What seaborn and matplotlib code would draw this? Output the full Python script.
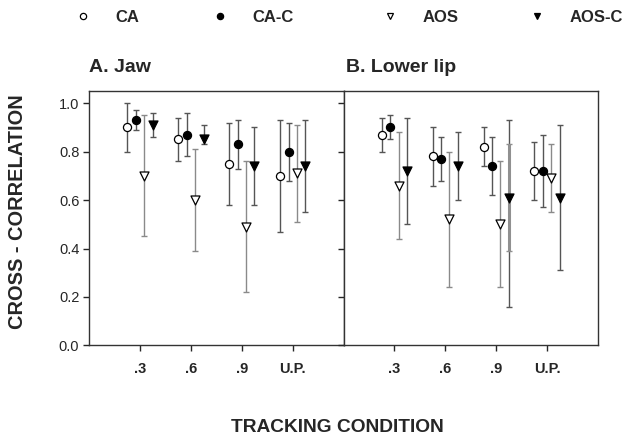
import numpy as np
import pandas as pd
import matplotlib
matplotlib.use('Agg')
import matplotlib.pyplot as plt
from matplotlib.lines import Line2D
import seaborn as sns

# data
conditions = ['.3', '.6', '.9', 'U.P.']
groups = ['CA', 'CA-C', 'AOS', 'AOS-C']

jaw_ca = [0.90, 0.85, 0.75, 0.70]
jaw_ca_lo = [0.80, 0.76, 0.58, 0.47]
jaw_ca_hi = [1.00, 0.94, 0.92, 0.93]
jaw_cac = [0.93, 0.87, 0.83, 0.80]
jaw_cac_lo = [0.89, 0.78, 0.73, 0.68]
jaw_cac_hi = [0.97, 0.96, 0.93, 0.92]
jaw_aos = [0.70, 0.60, 0.49, 0.71]
jaw_aos_lo = [0.45, 0.39, 0.22, 0.51]
jaw_aos_hi = [0.95, 0.81, 0.76, 0.91]
jaw_aosc = [0.91, 0.85, 0.74, 0.74]
jaw_aosc_lo = [0.86, 0.83, 0.58, 0.55]
jaw_aosc_hi = [0.96, 0.91, 0.90, 0.93]

lip_ca = [0.87, 0.78, 0.82, 0.72]
lip_ca_lo = [0.80, 0.66, 0.74, 0.60]
lip_ca_hi = [0.94, 0.90, 0.90, 0.84]
lip_cac = [0.90, 0.77, 0.74, 0.72]
lip_cac_lo = [0.85, 0.68, 0.62, 0.57]
lip_cac_hi = [0.95, 0.86, 0.86, 0.87]
lip_aos = [0.66, 0.52, 0.50, 0.69]
lip_aos_lo = [0.44, 0.24, 0.24, 0.55]
lip_aos_hi = [0.88, 0.80, 0.76, 0.83]
lip_aosc = [0.72, 0.74, 0.61, 0.61]
lip_aosc_lo = [0.50, 0.60, 0.16, 0.31]
lip_aosc_hi = [0.94, 0.88, 0.93, 0.91]
# second (inner) bar drawn over the .9 AOS-C lower lip point
lip_aosc_inner = ['.9', 0.39, 0.83]


def make_frame(means, los, his):
    rows = []
    for g, m, lo, hi in zip(groups, means, los, his):
        for c, v, l, h in zip(conditions, m, lo, hi):
            rows.append({'group': g, 'cond': c, 'r': v, 'lo': l, 'hi': h})
    return pd.DataFrame(rows)


jaw = make_frame([jaw_ca, jaw_cac, jaw_aos, jaw_aosc],
                 [jaw_ca_lo, jaw_cac_lo, jaw_aos_lo, jaw_aosc_lo],
                 [jaw_ca_hi, jaw_cac_hi, jaw_aos_hi, jaw_aosc_hi])
lip = make_frame([lip_ca, lip_cac, lip_aos, lip_aosc],
                 [lip_ca_lo, lip_cac_lo, lip_aos_lo, lip_aosc_lo],
                 [lip_ca_hi, lip_cac_hi, lip_aos_hi, lip_aosc_hi])

sns.set_style('ticks')
plt.rcParams['font.family'] = ['Liberation Sans', 'DejaVu Sans']

offsets = {'CA': -0.25, 'CA-C': -0.08, 'AOS': 0.08, 'AOS-C': 0.25}
markers = {'CA': 'o', 'CA-C': 'o', 'AOS': 'v', 'AOS-C': 'v'}
sizes = {'CA': 34, 'CA-C': 34, 'AOS': 42, 'AOS-C': 42}
faces = {'CA': 'white', 'CA-C': 'black', 'AOS': 'white', 'AOS-C': 'black'}
errcol = {'CA': '#555555', 'CA-C': '#555555', 'AOS': '#8a8a8a', 'AOS-C': '#555555'}

fig, axes = plt.subplots(1, 2, figsize=(6.25, 4.44), dpi=100, sharey=True)
fig.subplots_adjust(left=0.1424, right=0.957, top=0.795, bottom=0.222, wspace=0)


def draw_panel(ax, df, title, title_x):
    df = df.copy()
    df['x'] = df['cond'].map({c: i + 1 for i, c in enumerate(conditions)}) + df['group'].map(offsets)
    for g in groups:
        d = df[df['group'] == g]
        ax.errorbar(d['x'], d['r'], yerr=[d['r'] - d['lo'], d['hi'] - d['r']],
                    fmt='none', ecolor=errcol[g], elinewidth=1, capsize=2,
                    capthick=1, zorder=2)
        sns.scatterplot(x=d['x'], y=d['r'], marker=markers[g], color=faces[g],
                        edgecolor='black', linewidth=0.9, s=sizes[g], ax=ax,
                        zorder=3, legend=False)
    ax.set_xlim(0, 5)
    ax.set_ylim(0, 1.05)
    ax.set_xticks(range(1, 5))
    ax.set_xticklabels(conditions, fontweight='bold', fontsize=10.5)
    ax.set_yticks(np.arange(0, 1.01, 0.2))
    ax.set_yticklabels(['%.1f' % v for v in np.arange(0, 1.01, 0.2)], fontsize=10.5)
    ax.tick_params(axis='x', length=4, width=1, pad=8)
    ax.tick_params(axis='y', length=4, width=1, pad=3)
    ax.set_xlabel('')
    ax.set_ylabel('')
    for s in ax.spines.values():
        s.set_visible(True)
        s.set_linewidth(1)
        s.set_color('#333333')
    ax.text(title_x, 1.06, title, transform=ax.transAxes, fontsize=14,
            fontweight='bold', ha='left', va='bottom')
    return df


draw_panel(axes[0], jaw, 'A. Jaw', 0.0)
lipd = draw_panel(axes[1], lip, 'B. Lower lip', 0.008)
# thicker inner bar at lower lip .9 AOS-C
xin = lipd[(lipd['group'] == 'AOS-C') & (lipd['cond'] == lip_aosc_inner[0])]['x'].iloc[0]
axes[1].errorbar([xin], [(lip_aosc_inner[1] + lip_aosc_inner[2]) / 2],
                 yerr=[[(lip_aosc_inner[2] - lip_aosc_inner[1]) / 2]],
                 fmt='none', ecolor='#909090', elinewidth=2.2, capsize=2,
                 capthick=1, zorder=2.5)
axes[1].tick_params(axis='y', labelleft=False)

fig.text(18 / 625, 1 - 212 / 444, 'CROSS - CORRELATION', rotation=90, ha='center',
         va='center', fontsize=14.4, fontweight='bold')
fig.text(337 / 625, 1 - 427 / 444, 'TRACKING CONDITION', ha='center',
         va='center', fontsize=13.8, fontweight='bold')

# legend entries spaced like the original
legend_x = [83, 220, 390, 537]
for g, lx in zip(groups, legend_x):
    h = Line2D([], [], linestyle='none', marker=markers[g], markersize=4.5,
               markerfacecolor=faces[g], markeredgecolor='black', markeredgewidth=0.9)
    fig.legend([h], [g], loc='center left', bbox_to_anchor=((lx - 8) / 625, 1 - 17 / 444),
               frameon=False, borderpad=0, borderaxespad=0, handlelength=1.0,
               handletextpad=1.45, prop={'weight': 'bold', 'size': 12})

fig.savefig('out.png', dpi=100)
